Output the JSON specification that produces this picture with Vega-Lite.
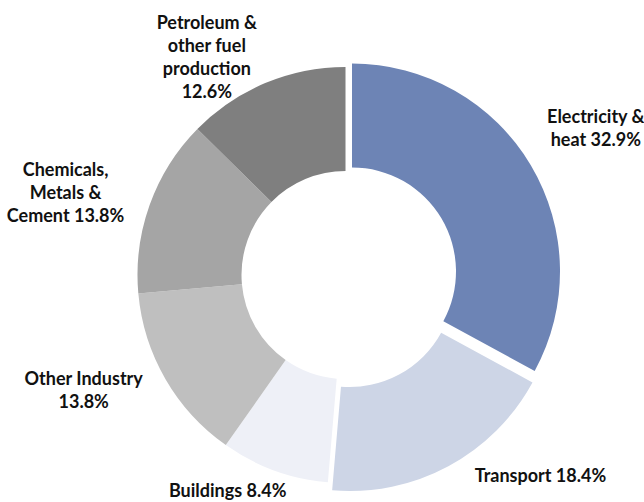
{
  "$schema": "https://vega.github.io/schema/vega-lite/v6.json",
  "autosize": "none",
  "padding": {"left": 47, "top": 48, "right": 0, "bottom": 0},
  "width": 597,
  "height": 454,
  "background": "white",
  "config": {"view": {"stroke": null}},
  "data": {
    "values": [
      {"idx": 1, "sector": "Electricity & heat", "label": "Electricity &\nheat 32.9%", "value": 32.9},
      {"idx": 2, "sector": "Transport", "label": "Transport 18.4%", "value": 18.4},
      {"idx": 3, "sector": "Buildings", "label": "Buildings 8.4%", "value": 8.4},
      {"idx": 4, "sector": "Other Industry", "label": "Other Industry\n13.8%", "value": 13.8},
      {"idx": 5, "sector": "Chemicals, Metals & Cement", "label": "Chemicals,\nMetals &\nCement 13.8%", "value": 13.8},
      {"idx": 6, "sector": "Petroleum & other fuel production", "label": "Petroleum &\nother fuel\nproduction\n12.6%", "value": 12.6}
    ]
  },
  "encoding": {
    "theta": {"field": "value", "type": "quantitative", "stack": true},
    "order": {"field": "idx", "type": "quantitative"}
  },
  "layer": [
    {
      "mark": {"type": "arc", "radius": 208, "radius2": 104},
      "encoding": {
        "color": {
          "field": "sector", "type": "nominal", "legend": null,
          "scale": {
            "domain": ["Electricity & heat", "Transport", "Buildings", "Other Industry", "Chemicals, Metals & Cement", "Petroleum & other fuel production"],
            "range": ["#6d84b5", "#cdd5e6", "#eef0f7", "#bfbfbf", "#a5a5a5", "#7f7f7f"]
          }
        },
        "opacity": {"condition": {"test": "datum.idx > 2", "value": 1}, "value": 0}
      }
    },
    {
      "mark": {"type": "arc", "radius": 208, "radius2": 104, "xOffset": 6.5, "yOffset": -3.5},
      "encoding": {
        "color": {"field": "sector", "type": "nominal", "legend": null},
        "opacity": {"condition": {"test": "datum.idx === 1", "value": 1}, "value": 0}
      }
    },
    {
      "mark": {"type": "arc", "radius": 208, "radius2": 104, "xOffset": 4.3, "yOffset": 8},
      "encoding": {
        "color": {"field": "sector", "type": "nominal", "legend": null},
        "opacity": {"condition": {"test": "datum.idx === 2", "value": 1}, "value": 0}
      }
    },
    {
      "mark": {"type": "text", "radius": 290, "dx": 1, "dy": -8.5, "font": "Lato", "fontWeight": "bold", "fontSize": 18, "lineHeight": 23, "lineBreak": "\n", "align": "center", "baseline": "middle", "color": "#111111"},
      "encoding": {"text": {"condition": {"test": "datum.idx === 1", "field": "label"}, "value": ""}}
    },
    {
      "mark": {"type": "text", "radius": 270, "dx": 67, "dy": -36, "font": "Lato", "fontWeight": "bold", "fontSize": 18, "lineHeight": 23, "lineBreak": "\n", "align": "center", "baseline": "middle", "color": "#111111"},
      "encoding": {"text": {"condition": {"test": "datum.idx === 2", "field": "label"}, "value": ""}}
    },
    {
      "mark": {"type": "text", "radius": 248, "dx": -33, "dy": -16, "font": "Lato", "fontWeight": "bold", "fontSize": 18, "lineHeight": 23, "lineBreak": "\n", "align": "center", "baseline": "middle", "color": "#111111"},
      "encoding": {"text": {"condition": {"test": "datum.idx === 3", "field": "label"}, "value": ""}}
    },
    {
      "mark": {"type": "text", "radius": 285, "dx": -15, "dy": -37.5, "font": "Lato", "fontWeight": "bold", "fontSize": 18, "lineHeight": 23, "lineBreak": "\n", "align": "center", "baseline": "middle", "color": "#111111"},
      "encoding": {"text": {"condition": {"test": "datum.idx === 4", "field": "label"}, "value": ""}}
    },
    {
      "mark": {"type": "text", "radius": 291, "dx": -6, "dy": -6, "font": "Lato", "fontWeight": "bold", "fontSize": 18, "lineHeight": 23, "lineBreak": "\n", "align": "center", "baseline": "middle", "color": "#111111"},
      "encoding": {"text": {"condition": {"test": "datum.idx === 5", "field": "label"}, "value": ""}}
    },
    {
      "mark": {"type": "text", "radius": 253, "dx": -41, "dy": -17.5, "font": "Lato", "fontWeight": "bold", "fontSize": 18, "lineHeight": 23, "lineBreak": "\n", "align": "center", "baseline": "middle", "color": "#111111"},
      "encoding": {"text": {"condition": {"test": "datum.idx === 6", "field": "label"}, "value": ""}}
    }
  ]
}
